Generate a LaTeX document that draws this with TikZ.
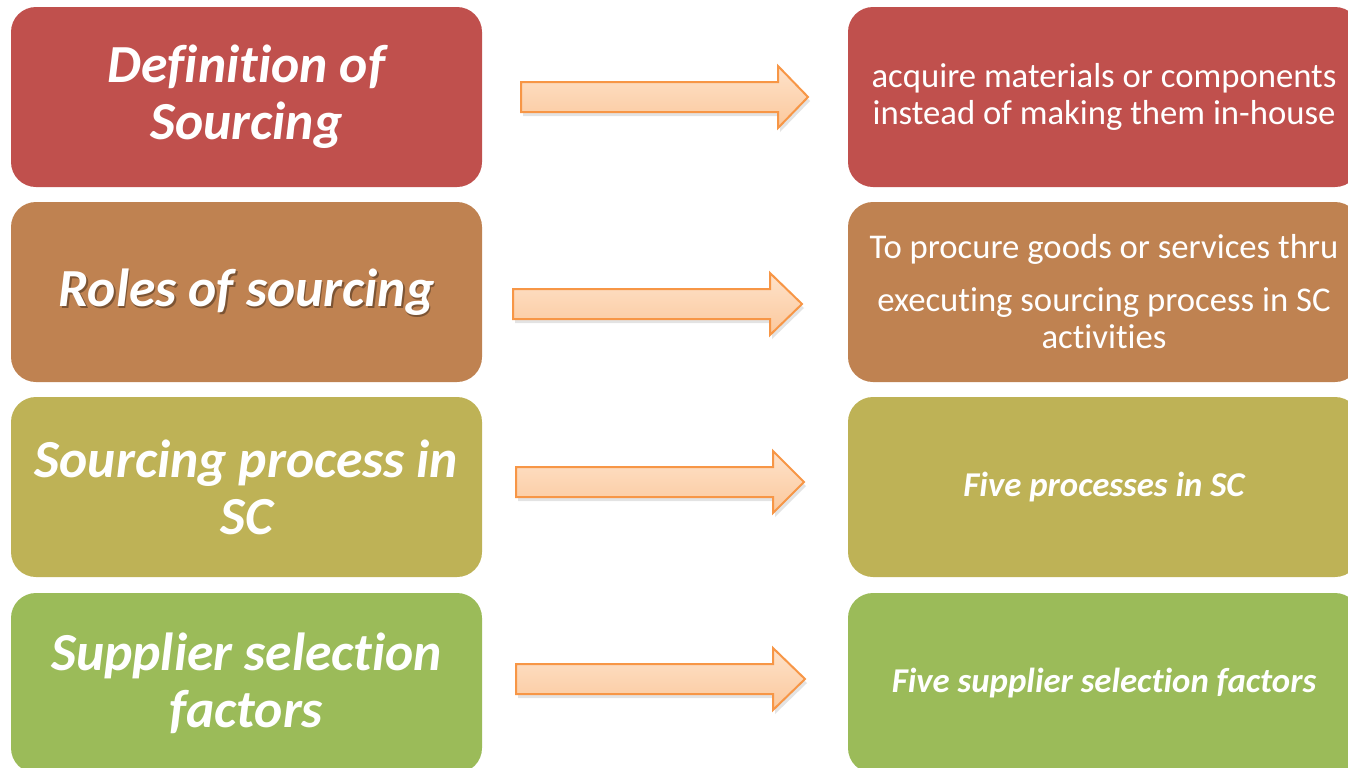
\documentclass[tikz,border=0pt]{standalone}
\usepackage{fontspec}
\setmainfont{Carlito}[Ligatures=NoCommon]
\usetikzlibrary{shadows}
\definecolor{cRed}{HTML}{C0504D}
\definecolor{cBrown}{HTML}{BF8251}
\definecolor{cOlive}{HTML}{BEB256}
\definecolor{cGreen}{HTML}{9BBB59}
\definecolor{arrEdge}{HTML}{F79646}
\definecolor{arrTop}{HTML}{FEE2CA}
\definecolor{arrBot}{HTML}{FBC89C}
\newcommand\nl{\kern0pt }
\newcommand\blockarrow[4]{%
  \filldraw[arrowshape] (#1,#4-15) -- (#2,#4-15) -- (#2,#4-31) -- (#3,#4)
    -- (#2,#4+31) -- (#2,#4+15) -- (#1,#4+15) -- cycle;}
\begin{document}
\begin{tikzpicture}[x=0.5pt,y=-0.5pt,
  titlefont/.style={font=\fontsize{26.8pt}{28.5pt}\selectfont\bfseries\itshape},
  leftbox/.style={fill=#1, rounded corners=12.5pt, minimum width=235.5pt,
    minimum height=90pt, align=center, text=white, inner sep=0pt, titlefont},
  rightbox/.style={fill=#1, rounded corners=12.5pt, minimum width=256pt,
    minimum height=90pt, align=center, text=white, inner sep=0pt,
    font=\fontsize{17.35pt}{18.5pt}\selectfont},
  rightbold/.style={font=\fontsize{17.4pt}{18.5pt}\selectfont\bfseries\itshape},
  arrowshape/.style={draw=arrEdge, line width=1pt, line join=miter,
    top color=arrTop, bottom color=arrBot,
    drop shadow={opacity=0.22, shadow xshift=1pt, shadow yshift=-2pt}}]
\useasboundingbox (0,0) rectangle (1348,767);
\begin{scope}
\clip (0,0) rectangle (1348,767);
% left boxes
\node[leftbox=cRed] (L1) at (246.5,97) {Def\nl ini\nl t\nl ion of\\Sourcing};
\node[leftbox=cBrown] (L2) at (246.5,292) {};
\node[text=black, opacity=0.35, titlefont] (L2s) at (248,294) {Roles of sourcing};
\node[text=white, titlefont] (L2t) at (246.5,292) {Roles of sourcing};
\node[leftbox=cOlive] (L3) at (246.5,487) {Sourcing process in\\SC};
\node[leftbox=cGreen] (L4) at (246.5,683) {Supplier selec\nl t\nl ion\\factors};
% right boxes
\node[rightbox=cRed] (R1) at (1104,97) {acquire materials or components\\instead of making them in-house};
\node[rightbox=cBrown] (R2) at (1104,292) {To procure goods or services thru\\[8pt]executing sourcing process in SC\\act\nl ivit\nl ies};
\node[rightbox=cOlive, rightbold] (R3) at (1104,487) {Five processes in SC};
\node[rightbox=cGreen, rightbold] (R4) at (1104,683) {Five supplier selec\nl t\nl ion factors};
\end{scope}
% arrows
\blockarrow{521}{778}{808}{97}
\blockarrow{513}{770}{802}{304}
\blockarrow{516}{773}{804}{482}
\blockarrow{516}{773}{805}{679}
\end{tikzpicture}
\end{document}
